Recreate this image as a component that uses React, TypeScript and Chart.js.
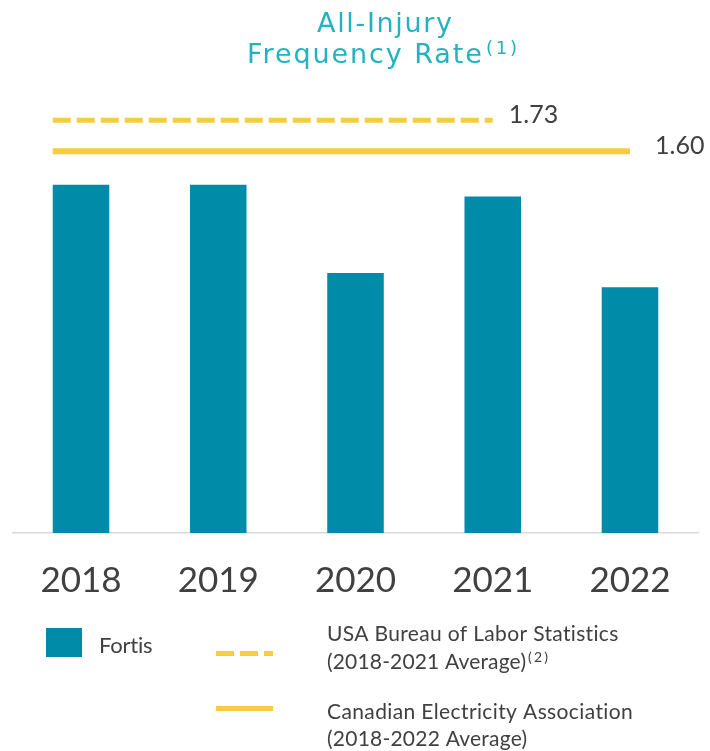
import { useEffect, useRef } from 'react';
import { Chart, registerables } from 'chart.js';

Chart.register(...registerables);

// ---- data ----
const categories = ['2018', '2019', '2020', '2021', '2022'];
const fortisValues = [1.46, 1.46, 1.09, 1.41, 1.03];
const usaAverage = 1.73;
const usaYears = ['2018', '2021'];
const ceaAverage = 1.6;
const ceaYears = ['2018', '2022'];
const fortisLabel = 'Fortis';
const usaLabel = ['USA Bureau of Labor Statistics', '(2018-2021 Average)'];
const usaNote = '(2)';
const ceaLabel = ['Canadian Electricity Association', '(2018-2022 Average)'];
const titleLines = ['All-Injury', 'Frequency Rate'];
const titleNote = '(1)';

// ---- styles ----
const TEAL = '#008ca8';
const TITLE_TEAL = '#22b2c1';
const YELLOW = '#f6cc41';
const TEXT = '#404040';
const BAR_PCT = 0.412;
const FONT = 'Lato';
const TITLE_FONT = 'DejaVu Sans';

function spanOf(years: string[]) {
  const s = categories.indexOf(years[0]) - BAR_PCT / 2;
  const e = categories.indexOf(years[1]);
  return [s, e];
}

function fitText(ctx: CanvasRenderingContext2D, text: string, x: number, y: number, target?: number) {
  (ctx as any).letterSpacing = '0px';
  if (target) {
    const w = ctx.measureText(text).width;
    const ls = (target - w) / Math.max(1, text.length - 1);
    (ctx as any).letterSpacing = ls.toFixed(2) + 'px';
  }
  ctx.fillText(text, x, y);
  (ctx as any).letterSpacing = '0px';
}

const overlayPlugin = {
  id: 'overlay',
  afterDraw(chart: any) {
    const ctx: CanvasRenderingContext2D = chart.ctx;
    ctx.save();
    // value labels for reference lines
    const gaps = [16, 25];
    let li = 0;
    chart.data.datasets.forEach((ds: any, i: number) => {
      if (ds.type !== 'line') return;
      const meta = chart.getDatasetMeta(i);
      const last = meta.data[meta.data.length - 1];
      ctx.font = `25px ${FONT}`;
      ctx.fillStyle = TEXT;
      ctx.textAlign = 'left';
      ctx.textBaseline = 'alphabetic';
      ctx.fillText(ds.data[ds.data.length - 1].y.toFixed(2), last.x + gaps[li], last.y + 3);
      li++;
    });

    // title
    ctx.fillStyle = TITLE_TEAL;
    ctx.textBaseline = 'alphabetic';
    ctx.textAlign = 'left';
    ctx.font = `27px "${TITLE_FONT}"`;
    fitText(ctx, titleLines[0], 317, 32, 135);
    fitText(ctx, titleLines[1], 247, 63, 235);
    ctx.font = `18px "${TITLE_FONT}"`;
    fitText(ctx, titleNote, 486, 54, 31);

    // legend
    ctx.fillStyle = TEAL;
    ctx.fillRect(46, 628, 36, 29);
    ctx.fillStyle = TEXT;
    ctx.font = `22px ${FONT}`;
    fitText(ctx, fortisLabel, 99, 653, 54);

    ctx.strokeStyle = YELLOW;
    ctx.lineWidth = 5;
    ctx.lineCap = 'butt';
    ctx.setLineDash([18, 6]);
    ctx.beginPath();
    ctx.moveTo(216, 653.5);
    ctx.lineTo(273, 653.5);
    ctx.stroke();
    ctx.setLineDash([]);
    ctx.beginPath();
    ctx.moveTo(216, 708.5);
    ctx.lineTo(273, 708.5);
    ctx.stroke();

    ctx.font = `21px ${FONT}`;
    fitText(ctx, usaLabel[0], 327, 641, 292);
    fitText(ctx, usaLabel[1], 327, 669, 199);
    ctx.font = `14px ${FONT}`;
    fitText(ctx, usaNote, 528, 662, 20);
    ctx.font = `21px ${FONT}`;
    fitText(ctx, ceaLabel[0], 327, 719, 306);
    fitText(ctx, ceaLabel[1], 327, 746, 200);
    ctx.restore();
  },
};

export default function App() {
  const ref = useRef<HTMLCanvasElement | null>(null);
  useEffect(() => {
    let chart: Chart | null = null;
    let cancelled = false;
    const make = () => {
      if (cancelled || !ref.current) return;
      const usaSpan = spanOf(usaYears);
      const ceaSpan = spanOf(ceaYears);
      chart = new Chart(ref.current, {
        type: 'bar',
        data: {
          labels: categories,
          datasets: [
            {
              type: 'bar',
              label: fortisLabel,
              data: fortisValues,
              backgroundColor: TEAL,
              barPercentage: BAR_PCT,
              categoryPercentage: 1,
              grouped: false,
              xAxisID: 'x',
              yAxisID: 'y',
            } as any,
            {
              type: 'line',
              label: usaLabel.join(' '),
              data: usaSpan.map((x) => ({ x, y: usaAverage })),
              xAxisID: 'xl',
              yAxisID: 'y',
              borderColor: YELLOW,
              borderWidth: 5,
              borderDash: [18, 6],
              borderCapStyle: 'butt',
              pointRadius: 0,
              fill: false,
            } as any,
            {
              type: 'line',
              label: ceaLabel.join(' '),
              data: ceaSpan.map((x) => ({ x, y: ceaAverage })),
              xAxisID: 'xl',
              yAxisID: 'y',
              borderColor: YELLOW,
              borderWidth: 6,
              borderCapStyle: 'butt',
              pointRadius: 0,
              fill: false,
            } as any,
          ],
        },
        options: {
          responsive: false,
          animation: false,
          layout: { padding: { top: 55.8, left: 12.4, right: 11.4, bottom: 130 } },
          plugins: { legend: { display: false }, tooltip: { enabled: false }, title: { display: false } },
          scales: {
            x: {
              type: 'category',
              grid: { display: false },
              border: { display: true, color: '#d9d9d9', width: 1.5 },
              ticks: { font: { family: FONT, size: 35 }, color: TEXT, padding: 19 },
            },
            xl: { type: 'linear', display: false, offset: false, min: -0.5, max: categories.length - 0.5 },
            y: { display: false, min: 0, max: 2 },
          },
        } as any,
        plugins: [overlayPlugin],
      });
    };
    const fonts = (document as any).fonts;
    if (fonts && fonts.load) {
      Promise.all([
        fonts.load(`35px ${FONT}`),
        fonts.load(`27px "${TITLE_FONT}"`),
      ]).then(make, make);
    } else make();
    return () => {
      cancelled = true;
      if (chart) chart.destroy();
    };
  }, []);
  return (
    <div style={{ position: 'absolute', left: 0, top: 0, width: 710, height: 751, background: '#fff' }}>
      <canvas ref={ref} width={710} height={751} />
    </div>
  );
}
